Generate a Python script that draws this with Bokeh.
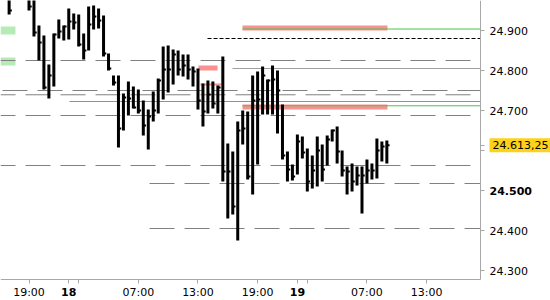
from bokeh.plotting import figure
from bokeh.models import (Range1d, FixedTicker, Label, ColumnDataSource, BoxAnnotation)
from bokeh.embed import file_html
from bokeh.resources import INLINE

# ---------------- data (30-min bars, bar index on x) ----------------
bar_idx = [-4, 0, 1, 2, 3, 4, 5, 6, 7, 8, 9, 10, 11, 12, 13, 14, 15, 16, 17, 18, 19,
           20, 21, 22, 23, 24, 25, 26, 27, 28, 29, 30, 31, 32, 33, 34, 35, 36, 37, 38, 39,
           40, 41, 42, 43, 44, 45, 46, 47, 48, 49, 50, 51, 52, 53, 54, 55, 56, 57, 58, 59,
           60, 61, 62, 63, 64, 65, 66, 67, 68, 69, 70, 71, 72]
high = [25.000, 25.000, 24.990, 24.9125, 24.8875, 24.815, 24.8925, 24.9275, 24.9125, 24.955,
        24.9425, 24.940, 24.8925, 24.960, 24.9625, 24.955, 24.9375, 24.8425, 24.7875, 24.7875,
        24.7425, 24.7725, 24.760, 24.7525, 24.725, 24.7025, 24.7475, 24.780, 24.860, 24.8625,
        24.8525, 24.850, 24.840, 24.840, 24.810, 24.805, 24.7675, 24.775, 24.7725, 24.7625,
        24.835, 24.6175, 24.5975, 24.6725, 24.700, 24.6975, 24.7875, 24.7975, 24.810, 24.7775,
        24.8125, 24.800, 24.715, 24.5975, 24.565, 24.640, 24.635, 24.605, 24.5875, 24.635,
        24.615, 24.6375, 24.6525, 24.660, 24.600, 24.560, 24.5675, 24.560, 24.560, 24.5775,
        24.5675, 24.630, 24.6225, 24.625]
low = [24.940, 24.950, 24.885, 24.825, 24.7525, 24.730, 24.760, 24.880, 24.875, 24.8775,
       24.9025, 24.860, 24.8275, 24.850, 24.9025, 24.905, 24.835, 24.800, 24.7625, 24.6075,
       24.650, 24.6875, 24.705, 24.6925, 24.6375, 24.6025, 24.6725, 24.6925, 24.7275, 24.745,
       24.765, 24.7875, 24.785, 24.7775, 24.760, 24.7025, 24.660, 24.6925, 24.705, 24.6925,
       24.5225, 24.430, 24.440, 24.375, 24.615, 24.5275, 24.490, 24.565, 24.690, 24.690,
       24.690, 24.6425, 24.5775, 24.5225, 24.525, 24.540, 24.580, 24.4975, 24.505, 24.510,
       24.5225, 24.5625, 24.6225, 24.5675, 24.535, 24.490, 24.4975, 24.5125, 24.4425, 24.5175,
       24.5275, 24.530, 24.5725, 24.5675]
close = [24.950, 24.960, 24.895, 24.870, 24.7575, 24.7875, 24.890, 24.8975, 24.910, 24.9225,
         24.920, 24.865, 24.850, 24.915, 24.935, 24.925, 24.8425, 24.805, 24.770, 24.655,
         24.7325, 24.730, 24.7075, 24.700, 24.6625, 24.685, 24.700, 24.775, 24.8025, 24.8025,
         24.840, 24.8025, 24.8125, 24.8025, 24.7975, 24.725, 24.6975, 24.740, 24.7175, 24.7575,
         24.5475, 24.5475, 24.460, 24.650, 24.655, 24.535, 24.725, 24.7275, 24.7875, 24.775,
         24.7775, 24.750, 24.5875, 24.5525, 24.535, 24.6225, 24.595, 24.5225, 24.550, 24.600,
         24.5525, 24.6275, 24.650, 24.5975, 24.550, 24.5475, 24.5225, 24.5375, 24.5375, 24.550,
         24.550, 24.600, 24.610, 24.61325]

x_ticks = [0, 8, 10, 22, 34, 46, 54, 56, 68, 80]
x_tick_labels = ["19:00", "", "", "07:00", "13:00", "19:00", "", "", "07:00", "13:00"]
day_ticks = [8, 54]
day_labels = ["18", "19"]

y_ticks = [24.3, 24.4, 24.5, 24.6, 24.7, 24.8, 24.9]
y_tick_labels = ["24.300", "24.400", "", "", "24.700", "24.800", "24.900"]
bold_y_tick = 24.5
bold_y_label = "24.500"
last_price = 24.61325
last_price_label = "24.613,25"

# horizontal levels
dashed_full = [24.825, 24.7393, 24.6875, 24.5625]
dashed_shift = [24.75]
dashed_from = [(24.25, 24.5175), (24.25, 24.405)]
solid_gray_from = [(40.95, 24.805)]
green_from = [(42.96, 24.90375), (8.15, 24.7225), (42.96, 24.7118)]
black_dash_from = [(35.92, 24.88)]
pink_zones = [(42.96, 72.13, 24.900, 24.9125), (42.96, 72.13, 24.7025, 24.715),
              (34.1, 37.93, 24.800, 24.8125)]
pink_thin = [(34.5, 38.73, 24.765)]
green_zones = [(-2.72, 24.89, 24.91), (-2.72, 24.8125, 24.8325)]

# ---------------- figure ----------------
PX = 4.97          # pixels per bar
PY = 400.0         # pixels per price unit
X0 = -28.5 / PX    # left edge of the frame
XR = X0 + 480 / PX  # price-axis position
YT = 24.975        # top edge
YB = YT - 279 / PY  # time-axis position

p = figure(width=550, height=300, output_backend="svg", toolbar_location=None,
           title=None, x_range=Range1d(X0, X0 + 550 / PX),
           y_range=Range1d(YT - 300 / PY, YT),
           min_border_left=0, min_border_top=0, min_border_right=0,
           min_border_bottom=0, x_axis_location="below", y_axis_location="right")
p.outline_line_color = None
p.xgrid.visible = False
p.ygrid.visible = False
p.background_fill_color = "white"
p.border_fill_color = "white"

AX = "#a8a8a8"
FONT = "DejaVu Sans"
xa = p.xaxis[0]
xa.fixed_location = YB
xa.bounds = (X0, XR)
xa.ticker = FixedTicker(ticks=x_ticks)
xa.major_label_overrides = {t: l for t, l in zip(x_ticks, x_tick_labels)}
xa.axis_line_color = AX
xa.major_tick_line_color = AX
xa.major_tick_in = 0
xa.major_tick_out = 4
xa.minor_tick_line_color = None
xa.major_label_standoff = 2
xa.major_label_text_font = FONT
xa.major_label_text_font_size = "11px"
xa.major_label_text_color = "#000000"

ya = p.yaxis[0]
ya.fixed_location = XR
ya.bounds = (YB, YT)
ya.ticker = FixedTicker(ticks=y_ticks + [last_price])
ov = {t: l for t, l in zip(y_ticks, y_tick_labels)}
ov[last_price] = ""
ya.major_label_overrides = ov
ya.axis_line_color = AX
ya.major_tick_line_color = AX
ya.major_tick_in = 0
ya.major_tick_out = 4
ya.minor_tick_line_color = None
ya.major_label_standoff = 5
ya.major_label_text_font = FONT
ya.major_label_text_font_size = "11px"
ya.major_label_text_color = "#000000"

# zones
for left, right, bottom, top in pink_zones:
    p.add_layout(BoxAnnotation(left=left, right=right, bottom=bottom, top=top,
                               fill_color="#fa9090", fill_alpha=1.0, line_color=None,
                               level="underlay"))
for right, bottom, top in green_zones:
    p.add_layout(BoxAnnotation(right=right, bottom=bottom, top=top,
                               fill_color="#b6ebb6", fill_alpha=1.0, line_color=None,
                               level="underlay"))

# levels
DASH = "#808080"
for y in dashed_full:
    p.segment(x0=[X0], y0=[y], x1=[XR], y1=[y], line_color=DASH, line_width=1,
              line_dash="25 10", line_dash_offset=10)
for y in dashed_shift:
    p.segment(x0=[X0], y0=[y], x1=[XR], y1=[y], line_color=DASH, line_width=1,
              line_dash="25 10", line_dash_offset=33)
for xs, y in dashed_from:
    p.segment(x0=[xs], y0=[y], x1=[XR], y1=[y], line_color=DASH, line_width=1,
              line_dash="25 10")
for xs, y in solid_gray_from:
    p.segment(x0=[xs], y0=[y], x1=[XR], y1=[y], line_color="#a0a0a0", line_width=1)
for xs, xe, y in pink_thin:
    p.segment(x0=[xs], y0=[y], x1=[xe], y1=[y], line_color="#fa9090", line_width=2)
for xs, y in green_from:
    p.segment(x0=[xs], y0=[y], x1=[XR], y1=[y], line_color="#4cc34c", line_width=1)
for xs, y in black_dash_from:
    p.segment(x0=[xs], y0=[y], x1=[XR], y1=[y], line_color="#000000", line_width=1,
              line_dash="4 2")

# bars
src = ColumnDataSource(dict(i=bar_idx, h=high, l=low, c=close,
                            it=[v + 0.55 for v in bar_idx]))
p.segment(x0="i", y0="l", x1="i", y1="h", source=src, line_color="black", line_width=3)
p.segment(x0="i", y0="c", x1="it", y1="c", source=src, line_color="black", line_width=2)

# bold day labels on the time axis
for t, lab in zip(day_ticks, day_labels):
    p.add_layout(Label(x=t, y=YB - 12 / PY, text=lab, text_font=FONT,
                       text_font_size="11px", text_font_style="bold",
                       text_align="center", text_baseline="middle", text_color="#000000"))

# bold price label
p.add_layout(Label(x=XR + 9 / PX, y=bold_y_tick, text=bold_y_label, text_font=FONT,
                   text_font_size="11px", text_font_style="bold", text_align="left",
                   text_baseline="middle", text_color="#000000"))

# last price box
p.add_layout(Label(x=XR + 9 / PX, y=last_price, text=last_price_label,
                   text_font=FONT, text_font_size="11px", text_align="left",
                   text_baseline="middle", text_color="#000000",
                   background_fill_color="#ffd21a", padding=3))

open("out.html", "w").write(file_html(p, INLINE))
